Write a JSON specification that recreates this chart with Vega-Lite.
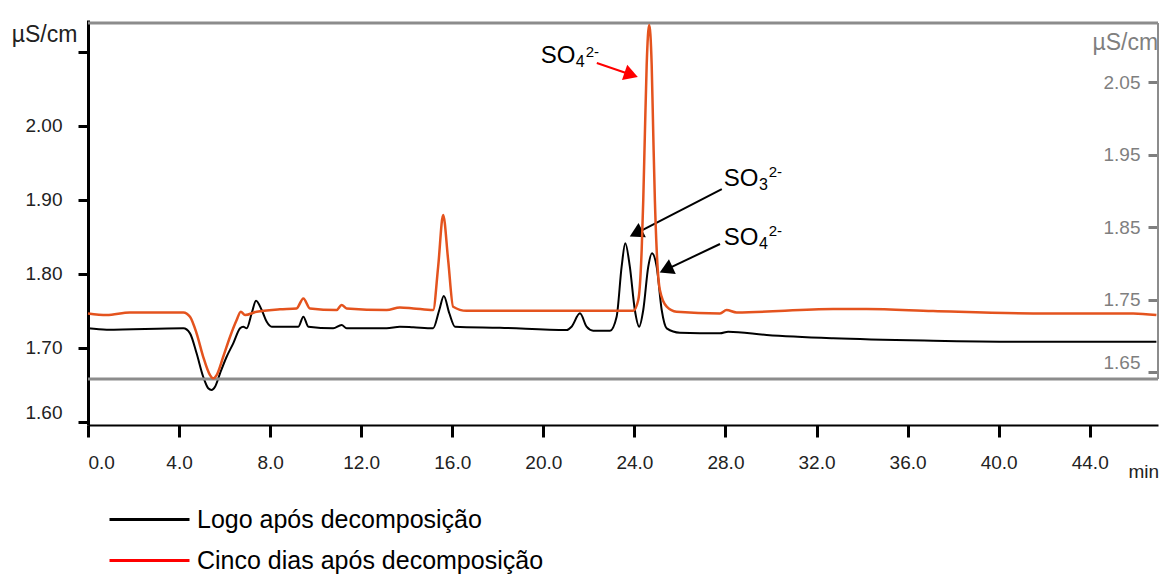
{
  "$schema": "https://vega.github.io/schema/vega-lite/v6.json",
  "width": 1070,
  "height": 405,
  "autosize": "none",
  "padding": {"left": 88, "top": 20, "right": 1, "bottom": 151},
  "background": "white",
  "config": {
    "view": {"stroke": null},
    "font": "Liberation Sans",
    "axis": {"grid": false, "labelFont": "Liberation Sans", "titleFont": "Liberation Sans"}
  },
  "data": {
    "values": [
      {"series": "Logo após decomposição", "t": 0, "value": 1.7266},
      {"series": "Logo após decomposição", "t": 0.82, "value": 1.7247},
      {"series": "Logo após decomposição", "t": 4.19, "value": 1.7266},
      {"series": "Logo após decomposição", "t": 4.48, "value": 1.7198},
      {"series": "Logo após decomposição", "t": 4.77, "value": 1.6928},
      {"series": "Logo após decomposição", "t": 5.06, "value": 1.6612},
      {"series": "Logo após decomposição", "t": 5.28, "value": 1.6456},
      {"series": "Logo após decomposição", "t": 5.43, "value": 1.6433},
      {"series": "Logo após decomposição", "t": 5.58, "value": 1.6477},
      {"series": "Logo após decomposição", "t": 5.80, "value": 1.6658},
      {"series": "Logo após decomposição", "t": 6.09, "value": 1.6882},
      {"series": "Logo após decomposição", "t": 6.38, "value": 1.7063},
      {"series": "Logo após decomposição", "t": 6.68, "value": 1.7266},
      {"series": "Logo após decomposição", "t": 6.82, "value": 1.7288},
      {"series": "Logo após decomposição", "t": 6.97, "value": 1.7266},
      {"series": "Logo após decomposição", "t": 7.19, "value": 1.7469},
      {"series": "Logo após decomposição", "t": 7.38, "value": 1.7639},
      {"series": "Logo após decomposição", "t": 7.63, "value": 1.7513},
      {"series": "Logo após decomposição", "t": 7.85, "value": 1.7355},
      {"series": "Logo após decomposição", "t": 8.07, "value": 1.7288},
      {"series": "Logo após decomposição", "t": 9.24, "value": 1.7288},
      {"series": "Logo após decomposição", "t": 9.46, "value": 1.7423},
      {"series": "Logo após decomposição", "t": 9.68, "value": 1.7288},
      {"series": "Logo após decomposição", "t": 10.77, "value": 1.7266},
      {"series": "Logo após decomposição", "t": 11.14, "value": 1.7311},
      {"series": "Logo após decomposição", "t": 11.36, "value": 1.7266},
      {"series": "Logo após decomposição", "t": 13.12, "value": 1.7266},
      {"series": "Logo após decomposição", "t": 13.70, "value": 1.7288},
      {"series": "Logo após decomposição", "t": 14.29, "value": 1.7280},
      {"series": "Logo após decomposição", "t": 15.16, "value": 1.7266},
      {"series": "Logo após decomposição", "t": 15.43, "value": 1.7513},
      {"series": "Logo após decomposição", "t": 15.63, "value": 1.7702},
      {"series": "Logo após decomposição", "t": 15.87, "value": 1.7469},
      {"series": "Logo após decomposição", "t": 16.12, "value": 1.7288},
      {"series": "Logo após decomposição", "t": 18.09, "value": 1.7274},
      {"series": "Logo após decomposição", "t": 21.02, "value": 1.7243},
      {"series": "Logo após decomposição", "t": 21.24, "value": 1.7288},
      {"series": "Logo após decomposição", "t": 21.61, "value": 1.7469},
      {"series": "Logo após decomposição", "t": 21.90, "value": 1.7288},
      {"series": "Logo após decomposição", "t": 22.19, "value": 1.7234},
      {"series": "Logo após decomposição", "t": 22.93, "value": 1.7234},
      {"series": "Logo após decomposição", "t": 23.22, "value": 1.7423},
      {"series": "Logo após decomposição", "t": 23.44, "value": 1.8098},
      {"series": "Logo após decomposição", "t": 23.60, "value": 1.8414},
      {"series": "Logo após decomposição", "t": 23.80, "value": 1.8098},
      {"series": "Logo após decomposição", "t": 24.02, "value": 1.7513},
      {"series": "Logo após decomposição", "t": 24.21, "value": 1.7288},
      {"series": "Logo após decomposição", "t": 24.39, "value": 1.7513},
      {"series": "Logo após decomposição", "t": 24.61, "value": 1.8098},
      {"series": "Logo após decomposição", "t": 24.77, "value": 1.8279},
      {"series": "Logo após decomposição", "t": 24.98, "value": 1.8098},
      {"series": "Logo após decomposição", "t": 25.20, "value": 1.7513},
      {"series": "Logo após decomposição", "t": 25.42, "value": 1.7266},
      {"series": "Logo após decomposição", "t": 26.00, "value": 1.7207},
      {"series": "Logo após decomposição", "t": 27.76, "value": 1.7198},
      {"series": "Logo após decomposição", "t": 28.12, "value": 1.7220},
      {"series": "Logo após decomposição", "t": 29.81, "value": 1.7176},
      {"series": "Logo após decomposição", "t": 32.73, "value": 1.7131},
      {"series": "Logo após decomposição", "t": 37.12, "value": 1.7099},
      {"series": "Logo após decomposição", "t": 41.52, "value": 1.7085},
      {"series": "Logo após decomposição", "t": 46.93, "value": 1.7085},
      {"series": "Cinco dias após decomposição", "t": 0, "value": 1.7309},
      {"series": "Cinco dias após decomposição", "t": 0.82, "value": 1.7286},
      {"series": "Cinco dias após decomposição", "t": 1.84, "value": 1.7323},
      {"series": "Cinco dias após decomposição", "t": 4.19, "value": 1.7323},
      {"series": "Cinco dias após decomposição", "t": 4.48, "value": 1.7263},
      {"series": "Cinco dias após decomposição", "t": 4.77, "value": 1.7034},
      {"series": "Cinco dias após decomposição", "t": 5.06, "value": 1.6711},
      {"series": "Cinco dias após decomposição", "t": 5.36, "value": 1.6458},
      {"series": "Cinco dias após decomposição", "t": 5.50, "value": 1.6413},
      {"series": "Cinco dias após decomposição", "t": 5.65, "value": 1.6458},
      {"series": "Cinco dias após decomposição", "t": 5.94, "value": 1.6711},
      {"series": "Cinco dias após decomposição", "t": 6.24, "value": 1.6987},
      {"series": "Cinco dias após decomposição", "t": 6.53, "value": 1.7217},
      {"series": "Cinco dias após decomposição", "t": 6.71, "value": 1.7332},
      {"series": "Cinco dias após decomposição", "t": 6.90, "value": 1.7286},
      {"series": "Cinco dias após decomposição", "t": 7.41, "value": 1.7332},
      {"series": "Cinco dias após decomposição", "t": 8.43, "value": 1.7365},
      {"series": "Cinco dias após decomposição", "t": 9.16, "value": 1.7378},
      {"series": "Cinco dias após decomposição", "t": 9.46, "value": 1.7516},
      {"series": "Cinco dias após decomposição", "t": 9.75, "value": 1.7378},
      {"series": "Cinco dias após decomposição", "t": 10.92, "value": 1.7355},
      {"series": "Cinco dias após decomposição", "t": 11.14, "value": 1.7424},
      {"series": "Cinco dias após decomposição", "t": 11.36, "value": 1.7378},
      {"series": "Cinco dias após decomposição", "t": 13.12, "value": 1.7355},
      {"series": "Cinco dias após decomposição", "t": 13.70, "value": 1.7392},
      {"series": "Cinco dias após decomposição", "t": 14.29, "value": 1.7378},
      {"series": "Cinco dias após decomposição", "t": 15.16, "value": 1.7355},
      {"series": "Cinco dias após decomposição", "t": 15.38, "value": 1.7952},
      {"series": "Cinco dias após decomposição", "t": 15.60, "value": 1.8665},
      {"series": "Cinco dias após decomposição", "t": 15.82, "value": 1.8045},
      {"series": "Cinco dias após decomposição", "t": 16.04, "value": 1.7401},
      {"series": "Cinco dias após decomposição", "t": 16.63, "value": 1.7345},
      {"series": "Cinco dias após decomposição", "t": 18.09, "value": 1.7345},
      {"series": "Cinco dias após decomposição", "t": 23.95, "value": 1.7345},
      {"series": "Cinco dias após decomposição", "t": 24.17, "value": 1.7493},
      {"series": "Cinco dias após decomposição", "t": 24.32, "value": 1.8183},
      {"series": "Cinco dias após decomposição", "t": 24.39, "value": 1.8872},
      {"series": "Cinco dias após decomposição", "t": 24.46, "value": 1.9769},
      {"series": "Cinco dias após decomposição", "t": 24.54, "value": 2.0734},
      {"series": "Cinco dias após decomposição", "t": 24.65, "value": 2.1286},
      {"series": "Cinco dias após decomposição", "t": 24.76, "value": 2.0734},
      {"series": "Cinco dias após decomposição", "t": 24.83, "value": 1.9769},
      {"series": "Cinco dias após decomposição", "t": 24.90, "value": 1.8872},
      {"series": "Cinco dias após decomposição", "t": 24.98, "value": 1.8183},
      {"series": "Cinco dias após decomposição", "t": 25.12, "value": 1.7631},
      {"series": "Cinco dias após decomposição", "t": 25.42, "value": 1.7401},
      {"series": "Cinco dias após decomposição", "t": 25.85, "value": 1.7332},
      {"series": "Cinco dias após decomposição", "t": 27.76, "value": 1.7309},
      {"series": "Cinco dias após decomposição", "t": 28.05, "value": 1.7355},
      {"series": "Cinco dias após decomposição", "t": 28.49, "value": 1.7323},
      {"series": "Cinco dias após decomposição", "t": 32.73, "value": 1.7369},
      {"series": "Cinco dias após decomposição", "t": 34.20, "value": 1.7369},
      {"series": "Cinco dias após decomposição", "t": 37.12, "value": 1.7341},
      {"series": "Cinco dias após decomposição", "t": 41.52, "value": 1.7309},
      {"series": "Cinco dias após decomposição", "t": 45.91, "value": 1.7309},
      {"series": "Cinco dias após decomposição", "t": 46.93, "value": 1.7286}
    ]
  },
  "layer": [
    {
      "layer": [
        {
          "transform": [{"filter": "datum.series === 'Logo após decomposição'"}],
          "mark": {"type": "line", "interpolate": "monotone", "strokeWidth": 2},
          "encoding": {
            "x": {
              "field": "t", "type": "quantitative", "title": "min",
              "scale": {"domain": [0, 47], "nice": false, "zero": false},
              "axis": {
                "orient": "bottom", "values": [0, 4, 8, 12, 16, 20, 24, 28, 32, 36, 40, 44], "format": ".1f",
                "labelFlush": true, "labelFontSize": 19, "labelColor": "#222", "labelPadding": 16,
                "tickSize": 12, "tickWidth": 3, "tickColor": "#000",
                "domainColor": "#000", "domainWidth": 2,
                "titleX": 1040, "titleY": 52, "titleAlign": "left", "titleBaseline": "alphabetic",
                "titleFontSize": 19, "titleFontWeight": "normal", "titleColor": "#222"
              }
            },
            "y": {
              "field": "value", "type": "quantitative", "title": "µS/cm",
              "scale": {"domain": [1.596, 2.143], "nice": false, "zero": false},
              "axis": {
                "orient": "left", "values": [1.6, 1.7, 1.8, 1.9, 2.0, 2.1],
                "labelExpr": "datum.value > 2.05 ? '' : format(datum.value, '.2f')",
                "labelBaseline": {"condition": {"test": "datum.value < 1.65", "value": "bottom"}, "value": "middle"},
                "labelFontSize": 19, "labelColor": "#222", "labelPadding": 16,
                "tickSize": 10, "tickWidth": 3, "tickColor": "#000",
                "domainColor": "#000", "domainWidth": 3,
                "titleAngle": 0, "titleX": -44, "titleY": 14, "titleAlign": "center", "titleBaseline": "middle",
                "titleFontSize": 23, "titleFontWeight": "normal", "titleColor": "#222"
              }
            },
            "color": {
              "field": "series", "type": "nominal",
              "scale": {"domain": ["Logo após decomposição", "Cinco dias após decomposição"], "range": ["#000000", "#ff0000"]},
              "legend": {
                "orient": "none", "legendX": 40, "legendY": 478, "title": null, "padding": 0,
                "symbolType": "M-2,0H2", "symbolSize": 1600, "symbolStrokeWidth": 3,
                "labelFontSize": 25, "labelFont": "Liberation Sans", "labelColor": "#000", "labelLimit": 0,
                "labelOffset": 26, "rowPadding": 6
              }
            }
          }
        },
        {
          "data": {"values": [{}]},
          "mark": {"type": "rule", "color": "#8c8c8c", "strokeWidth": 3},
          "encoding": {
            "x": {"datum": 0, "type": "quantitative"},
            "x2": {"datum": 47},
            "y": {"datum": 2.139, "type": "quantitative"}
          }
        },
        {
          "data": {"values": [{}]},
          "mark": {"type": "rule", "color": "#8c8c8c", "strokeWidth": 3},
          "encoding": {
            "x": {"datum": 0, "type": "quantitative"},
            "x2": {"datum": 47},
            "y": {"datum": 1.6581, "type": "quantitative"}
          }
        },
        {
          "data": {"values": [{}]},
          "mark": {"type": "rule", "color": "#8c8c8c", "strokeWidth": 2},
          "encoding": {
            "x": {"datum": 47, "type": "quantitative"},
            "y": {"datum": 1.6581, "type": "quantitative"},
            "y2": {"datum": 2.139}
          }
        },
        {
          "data": {"values": [{}]},
          "mark": {"type": "rule", "color": "#ff0000", "strokeWidth": 2},
          "encoding": {
            "x": {"datum": 22.35, "type": "quantitative"},
            "x2": {"datum": 23.86},
            "y": {"datum": 2.0849, "type": "quantitative"},
            "y2": {"datum": 2.0691}
          }
        },
        {
          "data": {"values": [{}]},
          "mark": {"type": "point", "shape": "triangle-up", "filled": true, "color": "#ff0000", "size": 260, "angle": 109, "opacity": 1},
          "encoding": {
            "x": {"datum": 23.86, "type": "quantitative"},
            "y": {"datum": 2.0691, "type": "quantitative"}
          }
        },
        {
          "data": {"values": [{}]},
          "mark": {"type": "rule", "color": "#000000", "strokeWidth": 2},
          "encoding": {
            "x": {"datum": 27.84, "type": "quantitative"},
            "x2": {"datum": 24.07},
            "y": {"datum": 1.9147, "type": "quantitative"},
            "y2": {"datum": 1.8549}
          }
        },
        {
          "data": {"values": [{}]},
          "mark": {"type": "point", "shape": "triangle-up", "filled": true, "color": "#000000", "size": 260, "angle": 243, "opacity": 1},
          "encoding": {
            "x": {"datum": 24.07, "type": "quantitative"},
            "y": {"datum": 1.8549, "type": "quantitative"}
          }
        },
        {
          "data": {"values": [{}]},
          "mark": {"type": "rule", "color": "#000000", "strokeWidth": 2},
          "encoding": {
            "x": {"datum": 27.76, "type": "quantitative"},
            "x2": {"datum": 25.39},
            "y": {"datum": 1.8405, "type": "quantitative"},
            "y2": {"datum": 1.8059}
          }
        },
        {
          "data": {"values": [{}]},
          "mark": {"type": "point", "shape": "triangle-up", "filled": true, "color": "#000000", "size": 260, "angle": 245, "opacity": 1},
          "encoding": {
            "x": {"datum": 25.39, "type": "quantitative"},
            "y": {"datum": 1.8059, "type": "quantitative"}
          }
        },
        {
          "data": {"values": [{}]},
          "mark": {"type": "text", "text": "SO", "fontSize": 24, "align": "left", "baseline": "alphabetic", "color": "#000"},
          "encoding": {
            "x": {"datum": 19.89, "type": "quantitative"},
            "y": {"datum": 2.0849, "type": "quantitative"}
          }
        },
        {
          "data": {"values": [{}]},
          "mark": {"type": "text", "text": "4", "fontSize": 16, "align": "left", "baseline": "alphabetic", "color": "#000"},
          "encoding": {
            "x": {"datum": 21.43, "type": "quantitative"},
            "y": {"datum": 2.0795, "type": "quantitative"}
          }
        },
        {
          "data": {"values": [{}]},
          "mark": {"type": "text", "text": "2-", "fontSize": 15, "align": "left", "baseline": "alphabetic", "color": "#000"},
          "encoding": {
            "x": {"datum": 21.86, "type": "quantitative"},
            "y": {"datum": 2.093, "type": "quantitative"}
          }
        },
        {
          "data": {"values": [{}]},
          "mark": {"type": "text", "text": "SO", "fontSize": 24, "align": "left", "baseline": "alphabetic", "color": "#000"},
          "encoding": {
            "x": {"datum": 27.93, "type": "quantitative"},
            "y": {"datum": 1.9188, "type": "quantitative"}
          }
        },
        {
          "data": {"values": [{}]},
          "mark": {"type": "text", "text": "3", "fontSize": 16, "align": "left", "baseline": "alphabetic", "color": "#000"},
          "encoding": {
            "x": {"datum": 29.47, "type": "quantitative"},
            "y": {"datum": 1.9134, "type": "quantitative"}
          }
        },
        {
          "data": {"values": [{}]},
          "mark": {"type": "text", "text": "2-", "fontSize": 15, "align": "left", "baseline": "alphabetic", "color": "#000"},
          "encoding": {
            "x": {"datum": 29.9, "type": "quantitative"},
            "y": {"datum": 1.931, "type": "quantitative"}
          }
        },
        {
          "data": {"values": [{}]},
          "mark": {"type": "text", "text": "SO", "fontSize": 24, "align": "left", "baseline": "alphabetic", "color": "#000"},
          "encoding": {
            "x": {"datum": 27.93, "type": "quantitative"},
            "y": {"datum": 1.8391, "type": "quantitative"}
          }
        },
        {
          "data": {"values": [{}]},
          "mark": {"type": "text", "text": "4", "fontSize": 16, "align": "left", "baseline": "alphabetic", "color": "#000"},
          "encoding": {
            "x": {"datum": 29.47, "type": "quantitative"},
            "y": {"datum": 1.8337, "type": "quantitative"}
          }
        },
        {
          "data": {"values": [{}]},
          "mark": {"type": "text", "text": "2-", "fontSize": 15, "align": "left", "baseline": "alphabetic", "color": "#000"},
          "encoding": {
            "x": {"datum": 29.9, "type": "quantitative"},
            "y": {"datum": 1.8513, "type": "quantitative"}
          }
        }
      ]
    },
    {
      "layer": [
        {
          "transform": [{"filter": "datum.series === 'Cinco dias após decomposição'"}],
          "mark": {"type": "line", "interpolate": "monotone", "strokeWidth": 2.5, "color": "#e4531e"},
          "encoding": {
            "x": {"field": "t", "type": "quantitative", "title": "min", "scale": {"domain": [0, 47], "nice": false, "zero": false}},
            "y": {
              "field": "value", "type": "quantitative", "title": "µS/cm",
              "scale": {"domain": [1.577, 2.1355], "nice": false, "zero": false},
              "axis": {
                "orient": "right", "values": [1.65, 1.75, 1.85, 1.95, 2.05], "format": ".2f",
                "labelColor": "#7f7f7f", "labelFontSize": 19, "labelAlign": "right", "labelPadding": -8,
                "labelBaseline": {"condition": {"test": "datum.value < 1.7", "value": "bottom"}, "value": "middle"},
                "tickSize": -10, "tickWidth": 3, "tickColor": "#7f7f7f", "domain": false,
                "titleAngle": 0, "titleX": -66, "titleY": 22, "titleAlign": "left", "titleBaseline": "middle",
                "titleColor": "#7f7f7f", "titleFontSize": 23, "titleFontWeight": "normal"
              }
            }
          }
        }
      ]
    }
  ],
  "resolve": {"scale": {"y": "independent"}, "axis": {"y": "independent"}}
}
